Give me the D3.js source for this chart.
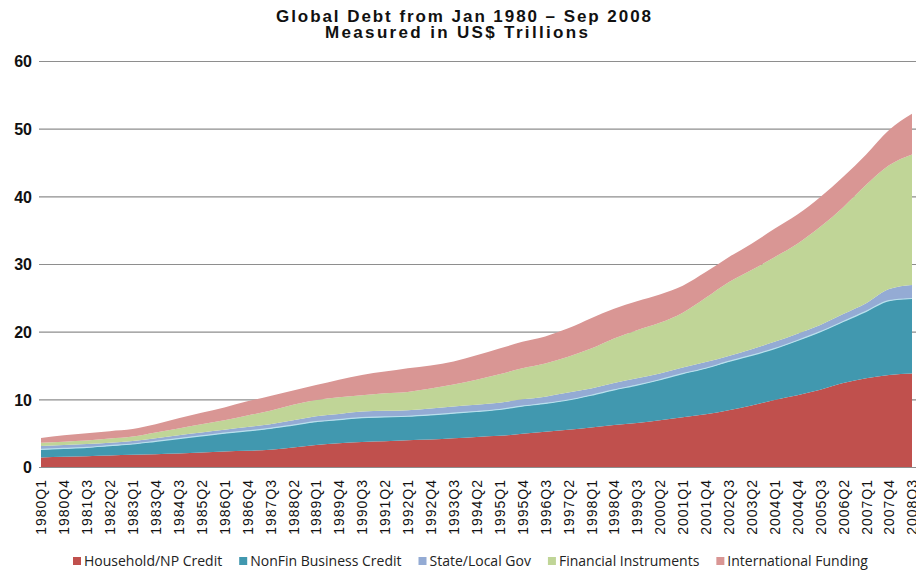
<!DOCTYPE html>
<html>
<head>
<meta charset="utf-8">
<script src="https://cdn.jsdelivr.net/npm/d3@7"></script>
<style>
	body { margin: 0; background: #ffffff; }
	#chart { width: 916px; height: 572px; }
</style>
</head>
<body>
<div id="chart"></div>
<script>
// quarters shown on the category axis (every third quarter)
const quarters = [
	"1980Q1", "1980Q4", "1981Q3", "1982Q2", "1983Q1", "1983Q4", "1984Q3", "1985Q2",
	"1986Q1", "1986Q4", "1987Q3", "1988Q2", "1989Q1", "1989Q4", "1990Q3", "1991Q2",
	"1992Q1", "1992Q4", "1993Q3", "1994Q2", "1995Q1", "1995Q4", "1996Q3", "1997Q2",
	"1998Q1", "1998Q4", "1999Q3", "2000Q2", "2001Q1", "2001Q4", "2002Q3", "2003Q2",
	"2004Q1", "2004Q4", "2005Q3", "2006Q2", "2007Q1", "2007Q4", "2008Q3"
];

// US$ trillions
const household = [
	1.4, 1.5, 1.6, 1.7, 1.8, 1.9, 2.0, 2.15, 2.3, 2.4, 2.55, 2.9, 3.25, 3.5, 3.7, 3.8,
	3.95, 4.05, 4.25, 4.45, 4.6, 4.9, 5.2, 5.5, 5.85, 6.2, 6.5, 6.9, 7.35, 7.8, 8.4, 9.1,
	9.9, 10.6, 11.4, 12.4, 13.1, 13.6, 13.8
];
const nonfin = [
	1.2, 1.25, 1.3, 1.45, 1.6, 1.9, 2.2, 2.45, 2.7, 2.95, 3.15, 3.3, 3.45, 3.5, 3.6, 3.6,
	3.55, 3.65, 3.7, 3.75, 3.9, 4.1, 4.2, 4.4, 4.75, 5.2, 5.6, 6.0, 6.45, 6.8, 7.2, 7.4,
	7.6, 8.1, 8.6, 9.1, 9.9, 11.0, 11.1
];
const stateLocal = [
	0.5, 0.5, 0.5, 0.45, 0.45, 0.45, 0.5, 0.5, 0.5, 0.55, 0.6, 0.7, 0.8, 0.85, 0.9, 0.9,
	0.9, 0.95, 1.0, 1.0, 1.0, 1.0, 1.0, 1.1, 1.0, 1.0, 1.0, 0.9, 0.9, 0.9, 0.8, 0.9,
	1.0, 1.0, 1.0, 1.1, 1.2, 1.7, 2.0
];
const financial = [
	0.5, 0.5, 0.5, 0.6, 0.65, 0.85, 1.0, 1.2, 1.4, 1.7, 2.0, 2.3, 2.4, 2.45, 2.4, 2.6,
	2.7, 2.95, 3.25, 3.7, 4.2, 4.6, 4.9, 5.3, 5.9, 6.6, 7.1, 7.5, 8.1, 9.5, 10.9, 11.7,
	12.5, 13.3, 14.5, 15.8, 17.5, 18.3, 19.3
];
const international = [
	0.7, 0.95, 1.1, 1.1, 1.1, 1.2, 1.5, 1.7, 1.9, 2.1, 2.2, 2.1, 2.2, 2.6, 3.0, 3.2,
	3.5, 3.4, 3.4, 3.6, 3.8, 3.9, 4.0, 4.2, 4.5, 4.4, 4.3, 4.2, 4.0, 3.8, 3.7, 3.9,
	4.2, 4.3, 4.4, 4.5, 4.5, 5.2, 6.0
];

const seriesNames = [
	"Household/NP Credit", "NonFin Business Credit", "State/Local Gov",
	"Financial Instruments", "International Funding"
];
const seriesColors = ["#c0504d", "#4198af", "#94abd4", "#c0d597", "#d99694"];
const yTicks = [0, 10, 20, 30, 40, 50, 60];

const width = 916,
	height = 572;
const margin = { top: 61, right: 4, bottom: 105, left: 41 };

const svg = d3
	.select("#chart")
	.append("svg")
	.attr("width", width)
	.attr("height", height);

// build rows for the stack
const table = quarters.map((q, i) => ({
	q: q,
	[seriesNames[0]]: household[i],
	[seriesNames[1]]: nonfin[i],
	[seriesNames[2]]: stateLocal[i],
	[seriesNames[3]]: financial[i],
	[seriesNames[4]]: international[i],
}));
const stacked = d3.stack().keys(seriesNames)(table);

const x = d3
	.scalePoint()
	.domain(quarters)
	.range([margin.left, width - margin.right]);
const y = d3
	.scaleLinear()
	.domain([0, 60])
	.range([height - margin.bottom, margin.top]);
const color = d3.scaleOrdinal().domain(seriesNames).range(seriesColors);

// gridlines + y labels
const yAxis = svg
	.append("g")
	.attr("transform", "translate(" + (margin.left - 2) + ",0)")
	.call(d3.axisRight(y).tickValues(yTicks).tickSize(width).tickFormat(d3.format("d")));
yAxis.select(".domain").remove();
yAxis.selectAll(".tick line").attr("stroke", "#8e8e8e").attr("stroke-width", 1.2);
yAxis
	.selectAll(".tick text")
	.attr("x", -7)
	.attr("text-anchor", "end")
	.attr("dy", "0.36em")
	.style("font-family", "'Liberation Sans', Arial, sans-serif")
	.style("font-weight", "bold")
	.style("font-size", "16px")
	.style("fill", "#111");

// areas
const area = d3
	.area()
	.curve(d3.curveMonotoneX)
	.x((d) => x(d.data.q))
	.y0((d) => y(d[0]))
	.y1((d) => y(d[1]));

svg
	.append("g")
	.selectAll("path")
	.data(stacked)
	.enter()
	.append("path")
	.attr("d", area)
	.style("fill", (d) => color(d.key));

// thin pale edge along the top of the business credit layer
const edge = d3
	.line()
	.curve(d3.curveMonotoneX)
	.x((d) => x(d.data.q))
	.y((d) => y(d[1]));
svg
	.append("path")
	.attr("d", edge(stacked[1]))
	.style("fill", "none")
	.style("stroke", "#b9e0ec")
	.style("stroke-width", 1.2);

// x labels, rotated
const xAxis = svg
	.append("g")
	.attr("transform", "translate(0," + (height - margin.bottom) + ")")
	.call(d3.axisBottom(x).tickSize(0));
xAxis.select(".domain").remove();
xAxis
	.selectAll(".tick text")
	.attr("transform", "rotate(-90)")
	.attr("x", -12)
	.attr("y", 0)
	.attr("dy", "0.35em")
	.attr("text-anchor", "end")
	.style("font-family", "'Liberation Sans', Arial, sans-serif")
	.style("font-size", "14px")
	.style("letter-spacing", "1px")
	.style("fill", "#111");

// title
const title = svg
	.append("g")
	.style("font-family", "'Liberation Sans', Arial, sans-serif")
	.style("font-weight", "bold")
	.style("font-size", "17px")
	.style("fill", "#111");
title
	.append("text")
	.attr("x", 276)
	.attr("y", 22)
	.attr("textLength", 375)
	.attr("lengthAdjust", "spacing")
	.text("Global Debt from Jan 1980 \u2013 Sep 2008");
title
	.append("text")
	.attr("x", 325)
	.attr("y", 38)
	.attr("textLength", 263)
	.attr("lengthAdjust", "spacing")
	.text("Measured in US$ Trillions");

// legend
const legend = svg.append("g").attr("transform", "translate(73,557)");
let lx = 0;
seriesNames.forEach(function (name) {
	const item = legend.append("g").attr("transform", "translate(" + lx + ",0)");
	item.append("rect").attr("width", 8).attr("height", 8).style("fill", color(name));
	const t = item
		.append("text")
		.attr("x", 11)
		.attr("y", 8.5)
		.style("font-family", "'Open Sans', sans-serif")
		.style("font-size", "14px")
		.style("fill", "#222")
		.text(name);
	lx += 11 + t.node().getComputedTextLength() + 17;
});
</script>
</body>
</html>
